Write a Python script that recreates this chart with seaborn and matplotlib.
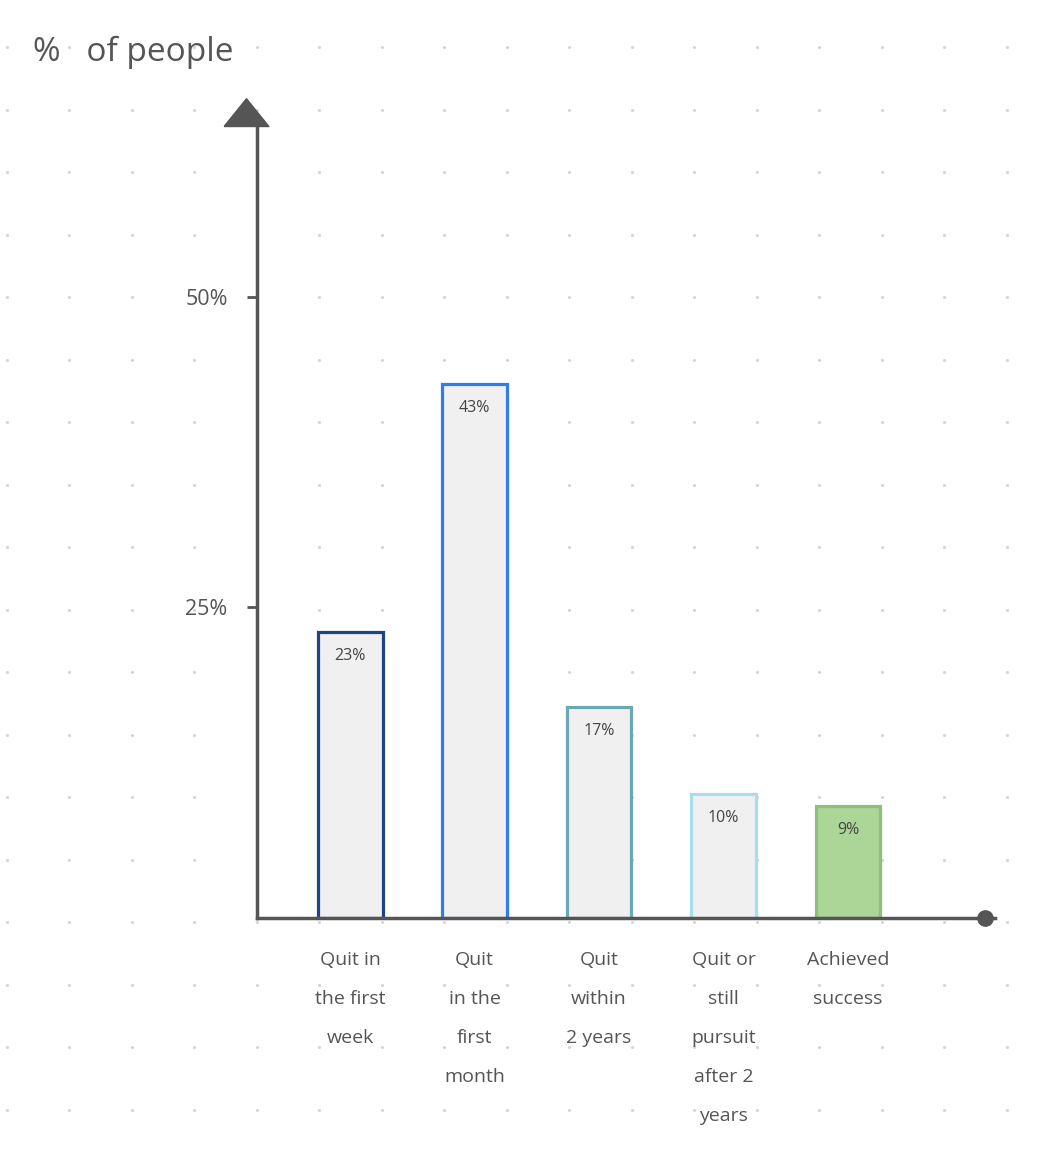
import numpy as np
import pandas as pd
import seaborn as sns
import matplotlib.pyplot as plt

categories = ["Quit in\nthe first\nweek", "Quit\nin the\nfirst\nmonth", "Quit\nwithin\n2 years",
              "Quit or\nstill\npursuit\nafter 2\nyears", "Achieved\nsuccess"]
values = [23, 43, 17, 10, 9]
value_labels = ["23%", "43%", "17%", "10%", "9%"]
edge_colors = ["#1d4585", "#2f7cf0", "#6aa9b4", "#a9dcec", "#8dc07a"]
fill_colors = ["#f0f0f0", "#f0f0f0", "#f0f0f0", "#f0f0f0", "#a8df8e"]
ytick_vals = [25, 50]
ytick_labels = ["25%", "50%"]

sns.set_style("white")
plt.rcParams['font.family'] = ['Open Sans', 'DejaVu Sans']
ink = "#555555"

fig = plt.figure(figsize=(10.44, 11.54), dpi=100)

# dotted paper background
bg = fig.add_axes([0, 0, 1, 1], zorder=-1)
bg.set_xlim(0, 1044)
bg.set_ylim(1154, 0)
bg.axis("off")
gx, gy = np.meshgrid(np.arange(6.5, 1044, 62.5), np.arange(47, 1154, 62.5))
bg.scatter(gx.ravel(), gy.ravel(), s=5, color="#d4d4d4", linewidths=0)

ax = fig.add_axes([0.246, 0.2045, 0.707, 0.6872])
ax.patch.set_alpha(0)
df = pd.DataFrame({"cat": categories, "val": values})
sns.barplot(data=df, x="cat", y="val", hue="cat", palette=fill_colors, width=0.52,
            legend=False, ax=ax, zorder=2)
for bar, ec in zip(ax.patches, edge_colors):
    bar.set_edgecolor(ec)
    bar.set_linewidth(2.3)

for i, (v, lab) in enumerate(zip(values, value_labels)):
    ax.text(i, v - 1.3, lab, ha="center", va="top", fontsize=11.5, color="#444444", zorder=3)

ax.set_xlim(-0.75, 5.18)
ax.set_ylim(0, 63.8)
sns.despine(ax=ax)
for s in ["left", "bottom"]:
    ax.spines[s].set_color(ink)
    ax.spines[s].set_linewidth(2.5)
tri = [(-1, 0), (1, 0), (0, 1.24), (-1, 0)]
ax.plot([-0.84], [63.7], marker=tri, markersize=40, color=ink, clip_on=False, zorder=5)
ax.plot([5.1], [0], marker="o", markersize=11, color=ink, clip_on=False, zorder=5)

ax.set_yticks(ytick_vals, ytick_labels)
ax.tick_params(axis="y", length=7, width=2, color=ink, labelsize=15.5, labelcolor=ink, pad=14, left=True)
ax.tick_params(axis="x", length=0, labelsize=14, labelcolor=ink, pad=24)
for t in ax.get_xticklabels():
    t.set_linespacing(2.5)
    t.set_va("top")
ax.set_xlabel("")
ax.set_ylabel("")

fig.text(0.032, 0.955, "%   of people", fontsize=24, color=ink, va="center", ha="left")

fig.savefig("out.png", dpi=100)
